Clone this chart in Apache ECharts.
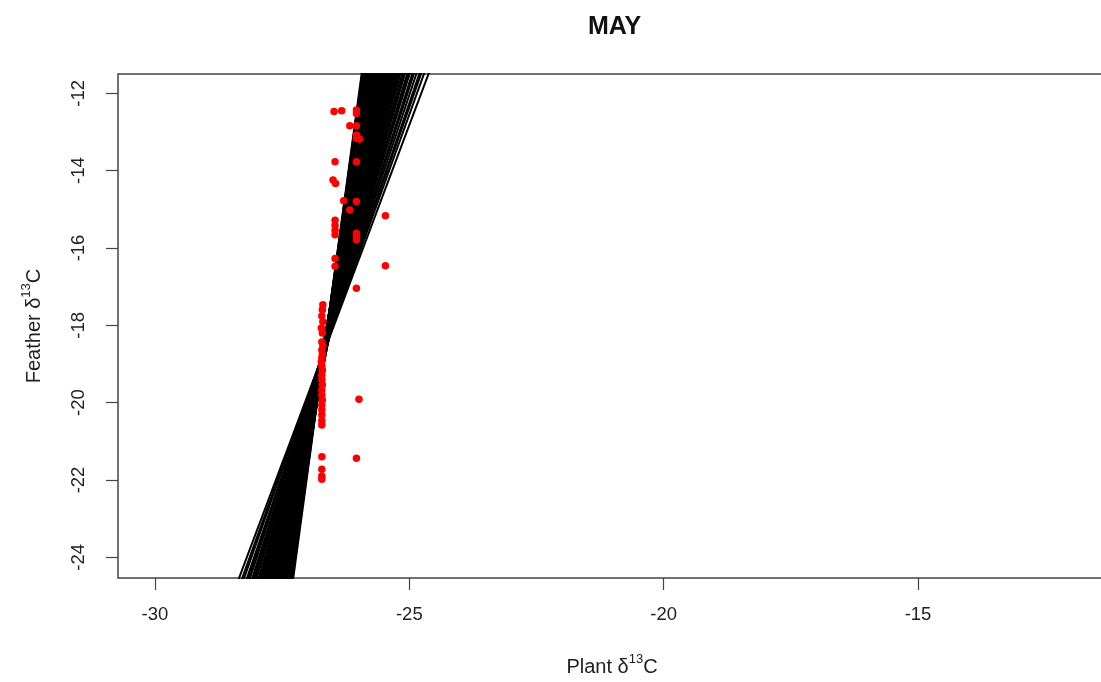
<!DOCTYPE html>
<html>
<head>
<meta charset="utf-8">
<title>MAY</title>
<script src="https://cdn.jsdelivr.net/npm/echarts@6.0.0/dist/echarts.min.js"></script>
<style>
  html, body { margin: 0; padding: 0; background: #fff; }
  #chart { width: 1101px; height: 682px; }
</style>
</head>
<body>
<div id="chart"></div>
<script>
// observed points (plant d13C, feather d13C)
const plantX = [
  -26.48, -26.33, -26.04, -26.04, -26.17, -26.04, -26.04, -26.04, -25.98, -26.46,
  -26.04, -26.50, -26.45, -26.29, -26.04, -26.17, -25.47, -26.46, -26.46, -26.46,
  -26.46, -26.04, -26.04, -26.04, -26.46, -26.46, -25.47, -26.04,
  -26.70, -26.71, -26.72, -26.70, -26.73, -26.71, -26.72, -26.70, -26.72, -26.71,
  -26.72, -26.73, -26.72, -26.71, -26.72, -26.72, -26.71, -26.72, -26.72, -26.71,
  -26.72, -26.72, -26.72, -26.72, -26.72,
  -25.99, -26.72, -26.04, -26.72, -26.72, -26.72
];
const featherY = [
  -12.47, -12.45, -12.43, -12.52, -12.84, -12.84, -13.08, -13.16, -13.18, -13.77,
  -13.77, -14.24, -14.33, -14.78, -14.80, -15.02, -15.17, -15.28, -15.41, -15.54,
  -15.66, -15.62, -15.71, -15.79, -16.27, -16.47, -16.46, -17.04,
  -17.47, -17.60, -17.76, -17.91, -18.07, -18.20, -18.43, -18.53, -18.64, -18.74,
  -18.84, -18.95, -19.05, -19.16, -19.29, -19.41, -19.54, -19.67, -19.80, -19.93,
  -20.06, -20.19, -20.32, -20.47, -20.58,
  -19.91, -21.40, -21.44, -21.72, -21.90, -21.98
];

// posterior regression lines: slope and fitted value at the mean plant value
const meanPlant = -26.68;
const slopes = [
  9.7, 9.5, 9.3, 9.2, 9.0, 8.9, 8.8, 8.7, 8.6, 8.5,
  8.4, 8.3, 8.2, 8.1, 8.0, 7.9, 7.85, 7.8, 7.7, 7.6,
  7.55, 7.5, 7.4, 7.35, 7.3, 7.2, 7.15, 7.1, 7.0, 6.95,
  6.9, 6.85, 6.8, 6.7, 6.65, 6.6, 6.55, 6.5, 6.45, 6.4,
  6.35, 6.3, 6.25, 6.2, 6.15, 6.1, 6.05, 6.0, 5.95, 5.9,
  5.85, 5.8, 5.75, 5.7, 5.65, 5.6, 5.55, 5.5, 5.45, 5.4,
  5.35, 5.3, 5.25, 5.2, 5.15, 5.1, 5.05, 5.0, 4.95, 4.9,
  4.85, 4.8, 4.75, 4.7, 4.62, 4.55, 4.48, 4.4, 4.32, 4.25,
  4.15, 4.05, 3.95, 3.85, 3.75, 3.65, 3.5
];
const centers = [
  -18.70, -18.66, -18.72, -18.64, -18.75, -18.62, -18.80, -18.58, -18.68, -18.85,
  -18.55, -18.74, -18.90, -18.60, -18.66, -18.95, -18.50, -18.78, -18.70, -18.45,
  -18.88, -18.62, -18.98, -18.56, -18.72, -18.42, -18.84, -18.66, -19.00, -18.52,
  -18.76, -18.40, -18.92, -18.60, -18.70, -18.48, -18.86, -18.64, -18.96, -18.54,
  -18.74, -18.44, -18.90, -18.58, -18.68, -18.50, -18.82, -18.62, -18.94, -18.56,
  -18.72, -18.46, -18.86, -18.60, -18.78, -18.52, -18.66, -18.88, -18.58, -18.70,
  -18.62, -18.80, -18.54, -18.74, -18.64, -18.84, -18.60, -18.72, -18.66, -18.78,
  -18.64, -18.70, -18.60, -18.74, -18.66, -18.72, -18.62, -18.70, -18.68, -18.66,
  -18.70, -18.66, -18.68, -18.72, -18.66, -18.68, -18.70
];

const xTicks = [-30, -25, -20, -15];
const yTicks = [-24, -22, -20, -18, -16, -14, -12];
const xMin = -30.727, xMax = -11.305;
const yMin = -24.535, yMax = -11.501;

const chart = echarts.init(document.getElementById('chart'));

const lineSeries = slopes.map((b, i) => {
  const fit = x => centers[i] + b * (x - meanPlant);
  return {
    type: 'line',
    silent: true,
    symbol: 'none',
    clip: true,
    lineStyle: { color: '#000', width: 2 },
    data: [[xMin, fit(xMin)], [xMax, fit(xMax)]],
    z: 2,
  };
});

const labelFont = 'Liberation Sans, Arial, sans-serif';
const supRich = {
  sup: { fontSize: 13, lineHeight: 13, verticalAlign: 'top', fontFamily: labelFont, color: '#222' },
};

chart.setOption({
  animation: false,
  backgroundColor: '#fff',
  title: {
    text: 'MAY',
    left: 583,
    top: 10,
    textStyle: { fontSize: 25, fontWeight: 'bold', color: '#111', fontFamily: labelFont },
  },
  grid: {
    left: 118, top: 74, width: 988, height: 504,
    outerBoundsMode: 'none',
    show: true, borderColor: '#444', borderWidth: 1.5,
  },
  xAxis: {
    type: 'value',
    min: xMin, max: xMax,
    name: 'Plant δ{sup|13}C',
    nameLocation: 'middle',
    nameGap: 75,
    nameTextStyle: { fontSize: 20, lineHeight: 28, color: '#222', fontFamily: labelFont, rich: supRich },
    axisLine: { show: false },
    splitLine: { show: false },
    axisTick: { show: true, length: 12, customValues: xTicks, lineStyle: { color: '#444', width: 1.2 } },
    axisLabel: { customValues: xTicks, margin: 27, fontSize: 18.5, color: '#222', fontFamily: labelFont },
  },
  yAxis: {
    type: 'value',
    min: yMin, max: yMax,
    name: 'Feather δ{sup|13}C',
    nameLocation: 'middle',
    nameGap: 70,
    nameTextStyle: { fontSize: 20, lineHeight: 28, color: '#222', fontFamily: labelFont, rich: supRich },
    axisLine: { show: false },
    splitLine: { show: false },
    axisTick: { show: true, length: 12, customValues: yTicks, lineStyle: { color: '#444', width: 1.2 } },
    axisLabel: { customValues: yTicks, rotate: 90, margin: 30, fontSize: 18.5, color: '#222', fontFamily: labelFont },
  },
  series: [
    ...lineSeries,
    {
      type: 'scatter',
      silent: true,
      symbolSize: 7.5,
      itemStyle: { color: '#ff0000', opacity: 1 },
      data: plantX.map((x, i) => [x, featherY[i]]),
      z: 5,
    },
  ],
});

window.addEventListener('resize', () => chart.resize());
</script>
</body>
</html>
